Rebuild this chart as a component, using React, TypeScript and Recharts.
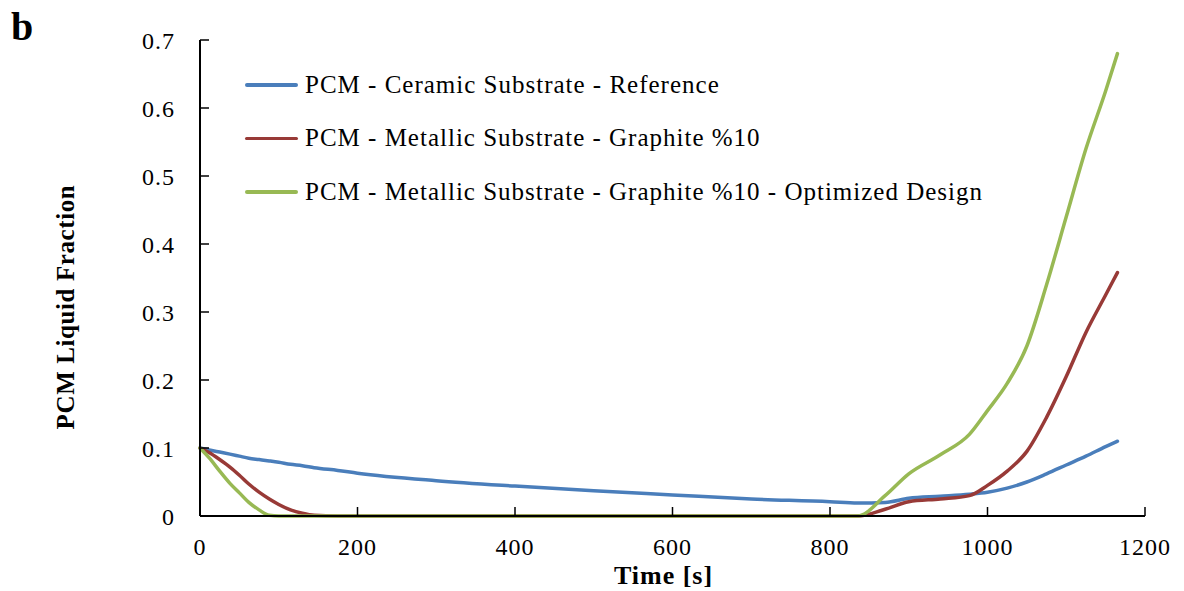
import { Label, Legend, Line, LineChart, XAxis, YAxis } from "recharts";

const CHART_WIDTH = 1184;
const CHART_HEIGHT = 591;
const FONT = '"Liberation Serif", "DejaVu Serif", serif';
const AXIS_COLOR = "#000000";

const times = [
  0, 12, 25, 38, 50, 62, 75, 88, 100, 115, 130, 145, 175, 200, 300, 400, 500,
  600, 700, 800, 835, 870, 900, 940, 977, 1000, 1025, 1050, 1075, 1100, 1125,
  1150, 1165,
];

const ceramicReference = [
  0.1, 0.097, 0.094, 0.091, 0.088, 0.085, 0.083, 0.081, 0.079, 0.076, 0.074,
  0.071, 0.067, 0.063, 0.052, 0.044, 0.037, 0.031, 0.025, 0.021, 0.019, 0.02,
  0.026, 0.029, 0.032, 0.035, 0.041, 0.05, 0.062, 0.075, 0.088, 0.102, 0.11,
];

const metallicGraphite = [
  0.1, 0.093, 0.083, 0.072, 0.06, 0.047, 0.035, 0.025, 0.017, 0.009, 0.004,
  0.001, 0, 0, 0, 0, 0, 0, 0, 0, 0, 0.01, 0.021, 0.025, 0.03, 0.045, 0.066,
  0.095, 0.145, 0.205, 0.27, 0.325, 0.358,
];

const metallicOptimized = [
  0.1, 0.085, 0.066, 0.048, 0.034, 0.02, 0.009, 0.001, 0, 0, 0, 0, 0, 0, 0, 0,
  0, 0, 0, 0, 0, 0.03, 0.062, 0.09, 0.12, 0.155, 0.195, 0.25, 0.34, 0.44, 0.54,
  0.625, 0.68,
];

const xTicks = [0, 200, 400, 600, 800, 1000, 1200];
const yTicks = [0, 0.1, 0.2, 0.3, 0.4, 0.5, 0.6, 0.7];

const series = [
  { key: "ceramic", name: "PCM - Ceramic Substrate - Reference", color: "#4a7ebb" },
  { key: "metallic", name: "PCM - Metallic Substrate - Graphite %10", color: "#983a37" },
  {
    key: "optimized",
    name: "PCM - Metallic Substrate - Graphite %10 - Optimized Design",
    color: "#98b954",
  },
];

const data = times.map((time, i) => ({
  time,
  ceramic: ceramicReference[i],
  metallic: metallicGraphite[i],
  optimized: metallicOptimized[i],
}));

const tickStyle = { fill: "#000", fontFamily: FONT, fontSize: 24, letterSpacing: 1 };
const titleStyle = { fontFamily: FONT, fontWeight: "bold", fill: "#000" };

function LegendBox() {
  return (
    <div style={{ fontFamily: FONT, fontSize: 25, letterSpacing: 1, color: "#000" }}>
      {series.map((s) => (
        <div
          key={s.key}
          style={{ display: "flex", alignItems: "center", height: 53.5 }}
        >
          <span
            style={{
              display: "inline-block",
              width: 53,
              height: 3.5,
              background: s.color,
              borderRadius: 2,
              marginRight: 7,
            }}
          />
          <span style={{ whiteSpace: "nowrap" }}>{s.name}</span>
        </div>
      ))}
    </div>
  );
}

export default function App() {
  return (
    <div
      style={{
        position: "absolute",
        left: 0,
        top: 0,
        width: CHART_WIDTH,
        height: CHART_HEIGHT,
        background: "#fff",
      }}
    >
      <div
        style={{
          position: "absolute",
          left: 11,
          top: 3,
          fontFamily: FONT,
          fontWeight: "bold",
          fontSize: 40,
        }}
      >
        b
      </div>
      <LineChart
        width={CHART_WIDTH}
        height={CHART_HEIGHT}
        data={data}
        margin={{ top: 40, right: 39, left: 0, bottom: 0 }}
      >
        <XAxis
          xAxisId="main"
          type="number"
          dataKey="time"
          domain={[0, 1200]}
          ticks={xTicks}
          height={75}
          tickSize={-9}
          tickMargin={31}
          tick={tickStyle}
          axisLine={{ stroke: AXIS_COLOR, strokeWidth: 2 }}
          tickLine={{ stroke: AXIS_COLOR, strokeWidth: 1.5 }}
        >
          <Label
            value="Time [s]"
            position="insideBottom"
            offset={7}
            dx={-9}
            style={{ ...titleStyle, fontSize: 26, letterSpacing: 1 }}
          />
        </XAxis>
        <XAxis
          xAxisId="top"
          orientation="top"
          type="number"
          dataKey="time"
          domain={[0, 1200]}
          height={0}
          tick={false}
          tickLine={false}
          axisLine={{ stroke: AXIS_COLOR, strokeWidth: 2 }}
        />
        <YAxis
          yAxisId="main"
          type="number"
          domain={[0, 0.7]}
          ticks={yTicks}
          width={200}
          tickSize={-9}
          tickMargin={34}
          tick={tickStyle}
          axisLine={{ stroke: AXIS_COLOR, strokeWidth: 2 }}
          tickLine={{ stroke: AXIS_COLOR, strokeWidth: 1.5 }}
        >
          <Label
            content={() => (
              <text
                x={65}
                y={307}
                transform="rotate(-90 65 307)"
                textAnchor="middle"
                dominantBaseline="central"
                style={{ ...titleStyle, fontSize: 25, letterSpacing: 0.6 }}
              >
                PCM Liquid Fraction
              </text>
            )}
          />
        </YAxis>
        <YAxis
          yAxisId="right"
          orientation="right"
          type="number"
          domain={[0, 0.7]}
          width={0}
          tick={false}
          tickLine={false}
          axisLine={{ stroke: AXIS_COLOR, strokeWidth: 2 }}
        />
        <Legend
          verticalAlign="middle"
          align="center"
          layout="vertical"
          content={() => <LegendBox />}
          wrapperStyle={{ left: 245, top: 58, width: "auto", height: "auto" }}
        />
        {series.map((s) => (
          <Line
            key={s.key}
            xAxisId="main"
            yAxisId="main"
            type="monotone"
            dataKey={s.key}
            name={s.name}
            stroke={s.color}
            strokeWidth={3.5}
            strokeLinejoin="round"
            strokeLinecap="round"
            dot={false}
            activeDot={false}
            isAnimationActive={false}
          />
        ))}
      </LineChart>
    </div>
  );
}
